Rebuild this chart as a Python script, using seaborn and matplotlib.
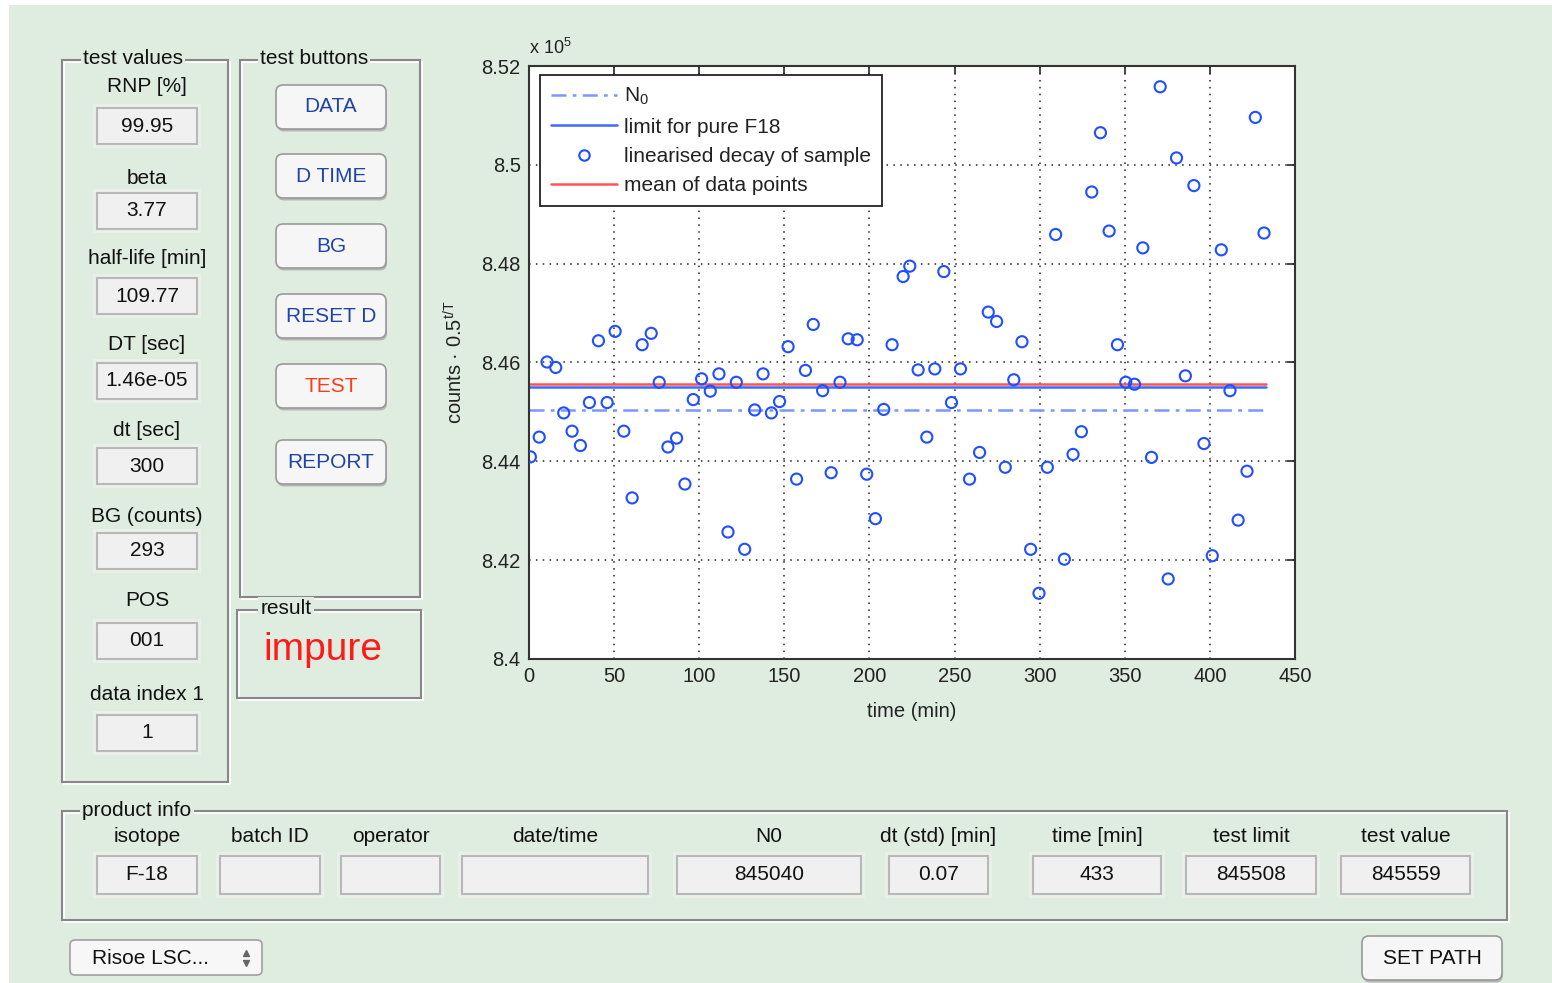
import matplotlib
matplotlib.use("Agg")
import matplotlib.pyplot as plt
from matplotlib.patches import Rectangle, FancyBboxPatch
from matplotlib.lines import Line2D
from matplotlib.ticker import FuncFormatter
import seaborn as sns
import pandas as pd

# measured data (time in minutes, linearised counts in units of 1e5)
times = [0.8, 6.0, 10.6, 15.7, 20.4, 25.3, 30.2, 35.5, 40.8, 45.9,
         50.6, 55.7, 60.6, 66.5, 71.8, 76.5, 81.6, 86.7, 91.6, 96.5,
         101.4, 106.5, 111.6, 116.9, 121.8, 126.7, 132.6, 137.5, 142.4, 147.2,
         152.2, 157.2, 162.4, 167.0, 172.5, 177.5, 182.7, 187.5, 192.8, 198.4,
         203.5, 208.4, 213.3, 219.8, 223.7, 228.6, 233.7, 238.4, 243.7, 248.2,
         253.5, 258.8, 264.7, 269.8, 274.7, 279.8, 284.8, 289.6, 294.7, 299.6,
         304.5, 309.4, 314.5, 319.6, 324.5, 330.6, 335.7, 340.8, 345.7, 350.6,
         355.7, 360.6, 365.7, 370.8, 375.5, 380.4, 385.6, 390.6, 396.5, 401.4,
         406.7, 411.8, 416.6, 421.8, 426.7, 431.8]
decay_e5 = [8.4409, 8.4449, 8.4601, 8.4590, 8.4498, 8.4461, 8.4432, 8.4519, 8.4644, 8.4519,
            8.4663, 8.4461, 8.4326, 8.4636, 8.4659, 8.4560, 8.4429, 8.4447, 8.4354, 8.4525,
            8.4567, 8.4542, 8.4577, 8.4257, 8.4560, 8.4222, 8.4504, 8.4577, 8.4498, 8.4521,
            8.4632, 8.4364, 8.4584, 8.4677, 8.4543, 8.4377, 8.4560, 8.4648, 8.4646, 8.4374,
            8.4284, 8.4505, 8.4636, 8.4774, 8.4795, 8.4585, 8.4449, 8.4587, 8.4784, 8.4519,
            8.4587, 8.4364, 8.4418, 8.4702, 8.4683, 8.4388, 8.4565, 8.4642, 8.4222, 8.4133,
            8.4388, 8.4859, 8.4202, 8.4414, 8.4460, 8.4945, 8.5065, 8.4866, 8.4636, 8.4560,
            8.4556, 8.4832, 8.4408, 8.5158, 8.4162, 8.5014, 8.4573, 8.4958, 8.4436, 8.4209,
            8.4828, 8.4543, 8.4281, 8.4380, 8.5096, 8.4862]

n0_counts = 845040
test_limit = 845508
test_value = 845559
time_total = 433

test_labels = ["RNP [%]", "beta", "half-life [min]", "DT [sec]", "dt [sec]",
               "BG (counts)", "POS", "data index 1"]
test_values = ["99.95", "3.77", "109.77", "1.46e-05", "300", "293", "001", "1"]
buttons = ["DATA", "D TIME", "BG", "RESET D", "TEST", "REPORT"]
info_labels = ["isotope", "batch ID", "operator", "date/time", "N0",
               "dt (std) [min]", "time [min]", "test limit", "test value"]
info_values = ["F-18", "", "", "", str(n0_counts), "0.07", str(time_total),
               str(test_limit), str(test_value)]
result = "impure"

GREEN = "#dfede1"
TXT = "#111111"
FONT = ["Liberation Sans", "DejaVu Sans"]

sns.set_style("white")
plt.rcParams["font.family"] = FONT
plt.rcParams["mathtext.fontset"] = "custom"
plt.rcParams["mathtext.rm"] = "Liberation Sans"
plt.rcParams["mathtext.it"] = "Liberation Sans:italic"

fig = plt.figure(figsize=(15.52, 9.83), dpi=100)
fig.patch.set_facecolor("white")

# background axes in pixel coordinates for the GUI controls
bg = fig.add_axes([0, 0, 1, 1], zorder=0)
bg.set_xlim(0, 1552)
bg.set_ylim(983, 0)
bg.axis("off")
bg.add_patch(Rectangle((9, 5), 1543, 978, fc=GREEN, ec="none"))


def panel(x0, y0, x1, y1, title, tx):
    bg.add_patch(Rectangle((x0 + 1.5, y0 + 1.5), x1 - x0, y1 - y0, fill=False, ec="white", lw=1.3))
    bg.add_patch(Rectangle((x0, y0), x1 - x0, y1 - y0, fill=False, ec="#878787", lw=1.5))
    bg.text(tx, y0 - 1, title, ha="center", va="center", fontsize=15, color=TXT,
            bbox=dict(fc=GREEN, ec="none", pad=1.5))


def editbox(x0, x1, cy, text, h=36):
    bg.add_patch(Rectangle((x0 - 4, cy - h / 2 - 4), x1 - x0 + 8, h + 8, fc="#e9f0ea", ec="none"))
    bg.add_patch(Rectangle((x0, cy - h / 2), x1 - x0, h, fc="#f0f0f0", ec="#b8b8b8", lw=1.5))
    bg.text((x0 + x1) / 2, cy, text, ha="center", va="center", fontsize=15, color=TXT)


def button(x0, x1, cy, text, color, h=44):
    bg.add_patch(FancyBboxPatch((x0 + 1, cy - h / 2 + 2.5), x1 - x0, h,
                                boxstyle="round,pad=0,rounding_size=7", fc="#a3a3a3", ec="none", alpha=0.7))
    bg.add_patch(FancyBboxPatch((x0, cy - h / 2), x1 - x0, h,
                                boxstyle="round,pad=0,rounding_size=7", fc="#f6f6f6", ec="#999999", lw=1.2))
    bg.text((x0 + x1) / 2, cy, text, ha="center", va="center", fontsize=15, color=color)


# test values panel
panel(62, 60, 228, 782, "test values", 133)
label_y = [87, 178, 258, 345, 430, 516, 600, 695]
box_y = [126, 211, 296, 381, 466, 551, 641, 733]
for lab, val, ly, by in zip(test_labels, test_values, label_y, box_y):
    bg.text(147, ly, lab, ha="center", va="center", fontsize=15, color=TXT)
    editbox(97, 197, by, val)

# test buttons panel
panel(240, 60, 420, 597, "test buttons", 314)
button_y = [107, 176, 246, 316, 386, 462]
for name, by in zip(buttons, button_y):
    button(276, 386, by, name, "#ff3a1a" if name == "TEST" else "#1f44a8")

# result panel
panel(237, 610, 421, 698, "result", 286)
bg.text(323, 650, result, ha="center", va="center", fontsize=28, color="#ff1a1a")

# product info panel
panel(62, 811, 1507, 920, "product info", 137)
info_x = [(97, 197), (220, 320), (341, 440), (462, 648), (677, 861),
          (889, 988), (1033, 1161), (1186, 1316), (1341, 1470)]
for lab, val, (x0, x1) in zip(info_labels, info_values, info_x):
    bg.text((x0 + x1) / 2, 837, lab, ha="center", va="center", fontsize=15, color=TXT)
    editbox(x0, x1, 875, val, h=38)

# dropdown and SET PATH button
bg.add_patch(FancyBboxPatch((70, 940), 192, 35, boxstyle="round,pad=0,rounding_size=5",
                            fc="#f7f7f7", ec="#a0a0a0", lw=1.2))
bg.text(92, 958, "Risoe LSC...", ha="left", va="center", fontsize=15, color=TXT)
bg.plot([246], [953], marker="^", ms=4, color="#666")
bg.plot([246], [963], marker="v", ms=4, color="#666")
button(1362, 1502, 958, "SET PATH", TXT)

# main plot
ax = fig.add_axes([529 / 1552, 1 - 659 / 983, (1295 - 529) / 1552, (659 - 66) / 983], zorder=2)
ax.set_facecolor("white")

df = pd.DataFrame({"time": times, "counts": decay_e5})
n0_line, = ax.plot([0, time_total], [n0_counts / 1e5] * 2, color="#7b96ff", lw=1.8,
                   linestyle=(0, (6, 2.5, 1.5, 2.5)))
limit_line, = ax.plot([0, time_total], [test_limit / 1e5] * 2, color="#3d6bff", lw=1.8)
mean_line, = ax.plot([0, time_total], [test_value / 1e5] * 2, color="#ff5555", lw=1.8)
sns.scatterplot(data=df, x="time", y="counts", ax=ax, s=64, facecolors="none",
                edgecolor="#1f4fff", linewidth=1.5, zorder=3)

ax.set_xlim(0, 450)
ax.set_ylim(8.4, 8.52)
ax.set_xticks(range(0, 451, 50))
ax.set_yticks([8.4, 8.42, 8.44, 8.46, 8.48, 8.5, 8.52])
ax.yaxis.set_major_formatter(FuncFormatter(lambda v, p: "%g" % round(v, 2)))
ax.tick_params(direction="in", top=True, right=True, length=6, width=1.2,
               labelsize=14.5, labelcolor="#222", pad=6)
ax.grid(True, color="#222", linestyle=(0, (1, 3.5)), lw=1.1)
for sp in ax.spines.values():
    sp.set_color("#333")
    sp.set_linewidth(1.5)

ax.set_xlabel("time (min)", fontsize=14.5, color="#222")
ax.xaxis.set_label_coords(0.5, -0.072)
ax.set_ylabel("counts \u00b7 0.5$^{\\mathregular{t/T}}$", fontsize=14.5, color="#222")
ax.yaxis.set_label_coords(-0.082, 0.5)
bg.text(529, 48, "x 10$^{\\mathregular{5}}$", ha="left", va="center", fontsize=13, color="#222")

scatter_proxy = Line2D([], [], linestyle="none", marker="o", ms=7.5, mfc="none",
                       mec="#1f4fff", mew=1.5)
leg = ax.legend([n0_line, limit_line, scatter_proxy, mean_line],
                ["N$_{\\mathregular{0}}$", "limit for pure F18", "linearised decay of sample",
                 "mean of data points"],
                loc="upper left", bbox_to_anchor=(0.0145, 0.984), borderaxespad=0,
                fontsize=15, frameon=True, fancybox=False, framealpha=1,
                handlelength=3.2, handletextpad=0.35, labelspacing=0.5, borderpad=0.5)
leg.get_frame().set_edgecolor("#222")
leg.get_frame().set_linewidth(1.3)
for t in leg.get_texts():
    t.set_color("#222")

fig.savefig("out.png", dpi=100)
